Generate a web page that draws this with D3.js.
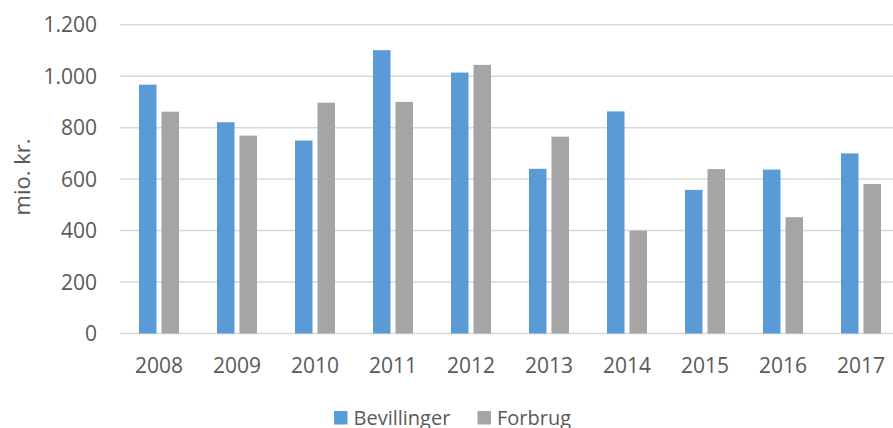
<!doctype html>
<html lang="da">
<head>
<meta charset="utf-8">
<title>Bevillinger og forbrug</title>
<script src="https://cdn.jsdelivr.net/npm/d3@7"></script>
<style>
  body { margin: 0; background: #fff; }
  text { font-family: "Open Sans", sans-serif; fill: #595959; }
</style>
</head>
<body>
<div id="chart"></div>
<script>
// data (mio. kr.)
var years = ["2008","2009","2010","2011","2012","2013","2014","2015","2016","2017"];
var bevillinger = [967, 821, 750, 1101, 1014, 640, 863, 558, 637, 700];
var forbrug = [862, 769, 897, 900, 1044, 765, 400, 639, 452, 581];
var seriesNames = ["Bevillinger", "Forbrug"];
var seriesColors = ["#5B9BD5", "#A5A5A5"];
var yTicks = [0, 200, 400, 600, 800, 1000, 1200];

var width = 893, height = 428;
var plot = {left: 120, right: 900, top: 24.7, bottom: 333.5};

var svg = d3.select("#chart").append("svg")
    .attr("width", width)
    .attr("height", height);

var x = d3.scaleBand()
    .domain(years)
    .range([plot.left, plot.right]);

var x1 = d3.scaleBand()
    .domain(seriesNames)
    .range([0, 40])
    .paddingInner(0.222);

var y = d3.scaleLinear()
    .domain([0, 1200])
    .range([plot.bottom, plot.top]);

var fmt = function(d) { return d3.format(",")(d).replace(/,/g, "."); };

// gridlines
svg.append("g")
  .selectAll("line")
  .data(yTicks)
  .enter().append("line")
    .attr("x1", plot.left)
    .attr("x2", width)
    .attr("y1", function(d) { return y(d); })
    .attr("y2", function(d) { return y(d); })
    .attr("stroke", "#D9D9D9")
    .attr("stroke-width", 1.5);

// y labels
svg.append("g")
  .selectAll("text")
  .data(yTicks)
  .enter().append("text")
    .attr("x", 97)
    .attr("y", function(d) { return y(d) + 7.5; })
    .attr("text-anchor", "end")
    .style("font-size", "21px")
    .text(fmt);

// y title
svg.append("text")
    .attr("transform", "translate(30,177) rotate(-90)")
    .attr("text-anchor", "middle")
    .style("font-size", "22px")
    .text("mio. kr.");

// bars
var data = years.map(function(yr, i) {
  return {year: yr, values: [bevillinger[i], forbrug[i]]};
});

var groups = svg.append("g")
  .selectAll("g")
  .data(data)
  .enter().append("g")
    .attr("transform", function(d) {
      return "translate(" + (x(d.year) + x.bandwidth() / 2 - 20) + ",0)";
    });

groups.selectAll("rect")
  .data(function(d) {
    return d.values.map(function(v, j) { return {name: seriesNames[j], value: v, color: seriesColors[j]}; });
  })
  .enter().append("rect")
    .attr("x", function(d) { return x1(d.name); })
    .attr("width", x1.bandwidth())
    .attr("y", function(d) { return y(d.value); })
    .attr("height", function(d) { return y(0) - y(d.value); })
    .attr("fill", function(d) { return d.color; });

// x labels
svg.append("g")
  .selectAll("text")
  .data(years)
  .enter().append("text")
    .attr("x", function(d) { return x(d) + x.bandwidth() / 2; })
    .attr("y", 372.5)
    .attr("text-anchor", "middle")
    .style("font-size", "21px")
    .text(function(d) { return d; });

// legend
var legendX = [334, 477.5];
var legend = svg.append("g")
  .selectAll("g")
  .data(seriesNames)
  .enter().append("g")
    .attr("transform", function(d, i) { return "translate(" + legendX[i] + ",0)"; });

legend.append("rect")
    .attr("x", 0)
    .attr("y", 411)
    .attr("width", 13.5)
    .attr("height", 13.5)
    .attr("fill", function(d, i) { return seriesColors[i]; });

legend.append("text")
    .attr("x", 19.5)
    .attr("y", 424.5)
    .style("font-size", "20px")
    .text(function(d) { return d; });
</script>
</body>
</html>
